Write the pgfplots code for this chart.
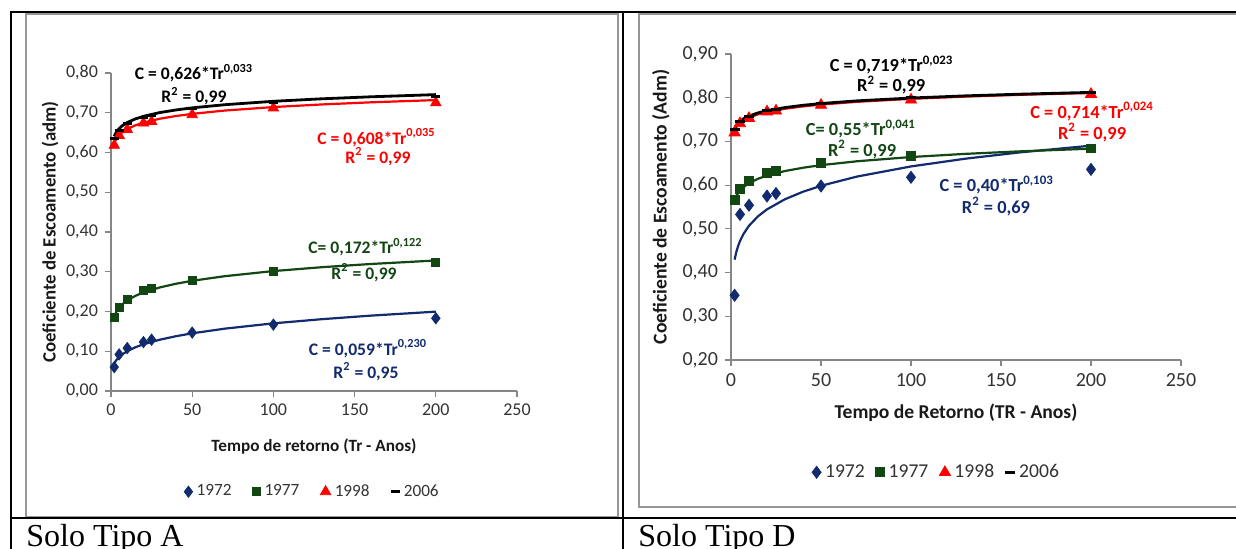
\documentclass[border=0pt]{standalone}
\usepackage{pgfplots}
\pgfplotsset{compat=1.18}
\usepackage{fontspec}
\setmainfont{Carlito}
\newfontfamily\tnr{Liberation Serif}
\definecolor{cblue}{RGB}{18,42,110}
\definecolor{cgreen}{RGB}{18,70,18}
\definecolor{cred}{RGB}{255,0,0}
\definecolor{axgray}{RGB}{134,134,134}
\definecolor{framegray}{RGB}{150,150,150}
\newcommand\annA{\bfseries\fontsize{8.8}{10}\selectfont}
\newcommand\annD{\bfseries\fontsize{9.2}{10}\selectfont}
\pgfplotsset{
  myaxis/.style={
    scale only axis, clip=false,
    axis x line*=bottom, axis y line*=left,
    axis line style={draw=axgray, line width=0.6pt},
    tick align=outside, major tick length=3pt,
    tick style={draw=axgray, line width=0.6pt},
    xmin=0, xmax=250, xtick={0,50,100,150,200,250},
    xticklabels={0,50,100,150,200,250},
    tick label style={text=black!80},
    legend columns=4,
    legend cell align=left,
    legend image code/.code={\draw[##1] plot coordinates {(0pt,0pt)};},
    legend style={draw=none, fill=none, anchor=center, inner sep=0pt, column sep=1.5pt, nodes={inner sep=0.5pt, text=black!80}},
  }
}
\begin{document}
\begin{tikzpicture}
\path[use as bounding box] (0,0) rectangle (618pt,274.5pt);
% chart frames
\draw[framegray, line width=0.6pt] (13pt,16pt) rectangle (309pt,267.5pt);
\draw[framegray, line width=0.6pt] (319.5pt,21pt) rectangle (625pt,267.5pt);
% table lines
\draw[black, line width=1pt] (5pt,268.25pt) -- (620pt,268.25pt);
\draw[black, line width=1pt] (5.25pt,268.75pt) -- (5.25pt,-1pt);
\draw[black, line width=0.8pt] (311.5pt,268.75pt) -- (311.5pt,-1pt);
\draw[black, line width=1pt] (5pt,15.5pt) -- (620pt,15.5pt);
\node[anchor=base west, inner sep=0pt, font=\tnr\fontsize{16}{18}\selectfont] at (13pt,1pt) {Solo Tipo A};
\node[anchor=base west, inner sep=0pt, font=\tnr\fontsize{16}{18}\selectfont] at (319pt,1pt) {Solo Tipo D};

% ---------------- Panel A ----------------
\begin{axis}[myaxis, at={(55.5pt,79pt)}, anchor=south west, width=203pt, height=159pt,
  ymin=0, ymax=0.8, ytick={0,0.1,0.2,0.3,0.4,0.5,0.6,0.7,0.8},
  yticklabels={{0,00},{0,10},{0,20},{0,30},{0,40},{0,50},{0,60},{0,70},{0,80}},
  tick label style={font=\fontsize{9}{10}\selectfont},
  xlabel={Tempo de retorno (Tr - Anos)}, ylabel={Coeficiente de Escoamento (adm)},
  label style={font=\bfseries\fontsize{8.6}{10}\selectfont, text=black!90},
  xlabel style={at={(axis description cs:0.5,-0.173)}, anchor=center},
  ylabel style={at={(axis description cs:-0.150,0.5)}, anchor=center, font=\bfseries\fontsize{9.4}{10}\selectfont},
  legend style={at={(axis description cs:0.495,-0.3167)}, font=\fontsize{8.6}{10}\selectfont,
    /tikz/every even column/.append style={column sep=10pt}},
]
\addplot[only marks, mark=diamond*, mark size=2.8pt, color=cblue] coordinates {(2,0.060)(5,0.092)(10,0.108)(20,0.123)(25,0.129)(50,0.147)(100,0.167)(200,0.183)};
\addlegendentry{1972}
\addplot[forget plot, cblue, line width=1.1pt] coordinates {(2,0.0692)(3,0.0760)(4,0.0812)(5,0.0854)(7,0.0923)(10,0.1002)(15,0.1100)(20,0.1175)(30,0.1290)(40,0.1378)(50,0.1451)(70,0.1568)(100,0.1702)(130,0.1807)(160,0.1896)(200,0.1996)};
\addplot[only marks, mark=square*, mark size=2pt, color=cgreen] coordinates {(2,0.185)(5,0.210)(10,0.231)(20,0.252)(25,0.258)(50,0.279)(100,0.300)(200,0.324)};
\addlegendentry{1977}
\addplot[forget plot, cgreen, line width=1.1pt] coordinates {(2,0.1872)(3,0.1967)(4,0.2037)(5,0.2093)(7,0.2181)(10,0.2278)(15,0.2393)(20,0.2479)(30,0.2605)(40,0.2698)(50,0.2772)(70,0.2888)(100,0.3017)(130,0.3115)(160,0.3195)(200,0.3283)};
\addplot[only marks, mark=triangle*, mark size=3pt, color=cred] coordinates {(2,0.618)(5,0.643)(10,0.658)(20,0.674)(25,0.678)(50,0.695)(100,0.712)(200,0.725)};
\addlegendentry{1998}
\addplot[forget plot, cred, line width=1.1pt] coordinates {(2,0.6229)(3,0.6318)(4,0.6382)(5,0.6432)(7,0.6509)(10,0.6590)(15,0.6684)(20,0.6752)(30,0.6849)(40,0.6918)(50,0.6972)(70,0.7055)(100,0.7143)(130,0.7209)(160,0.7262)(200,0.7319)};
\addplot[only marks, mark=-, mark size=2.3pt, mark options={line width=1.5pt}, color=black] coordinates {(2,0.636)(5,0.655)(10,0.672)(20,0.688)(25,0.692)(50,0.710)(100,0.727)(200,0.742)};
\addlegendentry{2006}
\addplot[forget plot, black, line width=1.4pt] coordinates {(2,0.6405)(3,0.6491)(4,0.6553)(5,0.6601)(7,0.6675)(10,0.6754)(15,0.6845)(20,0.6910)(30,0.7004)(40,0.7070)(50,0.7123)(70,0.7202)(100,0.7288)(130,0.7351)(160,0.7401)(200,0.7456)};
\node[font=\annA, text=black] at (axis cs:51.1,0.800) {C = 0,626*Tr\textsuperscript{0,033}};
\node[font=\annA, text=black] at (axis cs:51.1,0.742) {R\textsuperscript{2} = 0,99};
\node[font=\annA, text=cred] at (axis cs:163.5,0.638) {C = 0,608*Tr\textsuperscript{0,035}};
\node[font=\annA, text=cred] at (axis cs:164.4,0.589) {R\textsuperscript{2} = 0,99};
\node[font=\annA, text=cgreen] at (axis cs:156.7,0.362) {C= 0,172*Tr\textsuperscript{0,122}};
\node[font=\annA, text=cgreen] at (axis cs:155.8,0.297) {R\textsuperscript{2} = 0,99};
\node[font=\annA, text=cblue] at (axis cs:158.2,0.107) {C = 0,059*Tr\textsuperscript{0,230}};
\node[font=\annA, text=cblue] at (axis cs:157.0,0.0486) {R\textsuperscript{2} = 0,95};
\end{axis}

% ---------------- Panel D ----------------
\begin{axis}[myaxis, at={(365.5pt,94.5pt)}, anchor=south west, width=225pt, height=153pt,
  ymin=0.2, ymax=0.9, ytick={0.2,0.3,0.4,0.5,0.6,0.7,0.8,0.9},
  yticklabels={{0,20},{0,30},{0,40},{0,50},{0,60},{0,70},{0,80},{0,90}},
  tick label style={font=\fontsize{10}{11}\selectfont},
  xlabel={Tempo de Retorno (TR - Anos)}, ylabel={Coeficiente de Escoamento (Adm)},
  label style={font=\bfseries\fontsize{9.8}{11}\selectfont, text=black!90},
  xlabel style={at={(axis description cs:0.5,-0.173)}, anchor=center},
  ylabel style={at={(axis description cs:-0.156,0.5)}, anchor=center},
  legend style={at={(axis description cs:0.4556,-0.367)}, font=\fontsize{9.8}{11}\selectfont,
    /tikz/every even column/.append style={column sep=5pt}},
]
\addplot[only marks, mark=diamond*, mark size=3pt, color=cblue] coordinates {(2,0.348)(5,0.533)(10,0.554)(20,0.575)(25,0.581)(50,0.598)(100,0.618)(200,0.636)};
\addlegendentry{1972}
\addplot[forget plot, cblue, line width=1.1pt] coordinates {(2,0.4296)(3,0.4479)(4,0.4614)(5,0.4721)(7,0.4888)(10,0.5071)(15,0.5287)(20,0.5446)(30,0.5678)(40,0.5849)(50,0.5985)(70,0.6196)(100,0.6428)(130,0.6604)(160,0.6747)(200,0.6903)};
\addplot[only marks, mark=square*, mark size=2.2pt, color=cgreen] coordinates {(2,0.566)(5,0.591)(10,0.609)(20,0.628)(25,0.632)(50,0.650)(100,0.667)(200,0.684)};
\addlegendentry{1977}
\addplot[forget plot, cgreen, line width=1.1pt] coordinates {(2,0.5659)(3,0.5753)(4,0.5822)(5,0.5875)(7,0.5957)(10,0.6045)(15,0.6146)(20,0.6219)(30,0.6323)(40,0.6398)(50,0.6457)(70,0.6546)(100,0.6643)(130,0.6715)(160,0.6772)(200,0.6834)};
\addplot[only marks, mark=triangle*, mark size=3.2pt, color=cred] coordinates {(2,0.720)(5,0.741)(10,0.753)(20,0.768)(25,0.770)(50,0.783)(100,0.795)(200,0.808)};
\addlegendentry{1998}
\addplot[forget plot, cred, line width=1.1pt] coordinates {(2,0.7260)(3,0.7331)(4,0.7382)(5,0.7421)(7,0.7481)(10,0.7546)(15,0.7619)(20,0.7672)(30,0.7747)(40,0.7801)(50,0.7843)(70,0.7906)(100,0.7974)(130,0.8025)(160,0.8065)(200,0.8108)};
\addplot[only marks, mark=-, mark size=2.5pt, mark options={line width=1.6pt}, color=black] coordinates {(2,0.728)(5,0.745)(10,0.757)(20,0.770)(25,0.773)(50,0.787)(100,0.800)(200,0.812)};
\addlegendentry{2006}
\addplot[forget plot, black, line width=1.4pt] coordinates {(2,0.7306)(3,0.7374)(4,0.7423)(5,0.7461)(7,0.7519)(10,0.7581)(15,0.7652)(20,0.7703)(30,0.7775)(40,0.7827)(50,0.7867)(70,0.7928)(100,0.7993)(130,0.8042)(160,0.8080)(200,0.8122)};
\node[font=\annD, text=black] at (axis cs:89.2,0.875) {C = 0,719*Tr\textsuperscript{0,023}};
\node[font=\annD, text=black] at (axis cs:89.0,0.829) {R\textsuperscript{2} = 0,99};
\node[font=\annD, text=cred] at (axis cs:200.6,0.768) {C = 0,714*Tr\textsuperscript{0,024}};
\node[font=\annD, text=cred] at (axis cs:200.6,0.720) {R\textsuperscript{2} = 0,99};
\node[font=\annD, text=cgreen] at (axis cs:72.2,0.728) {C= 0,55*Tr\textsuperscript{0,041}};
\node[font=\annD, text=cgreen] at (axis cs:72.8,0.681) {R\textsuperscript{2} = 0,99};
\node[font=\annD, text=cblue] at (axis cs:147.6,0.600) {C = 0,40*Tr\textsuperscript{0,103}};
\node[font=\annD, text=cblue] at (axis cs:147.2,0.551) {R\textsuperscript{2} = 0,69};
\end{axis}
\end{tikzpicture}
\end{document}
